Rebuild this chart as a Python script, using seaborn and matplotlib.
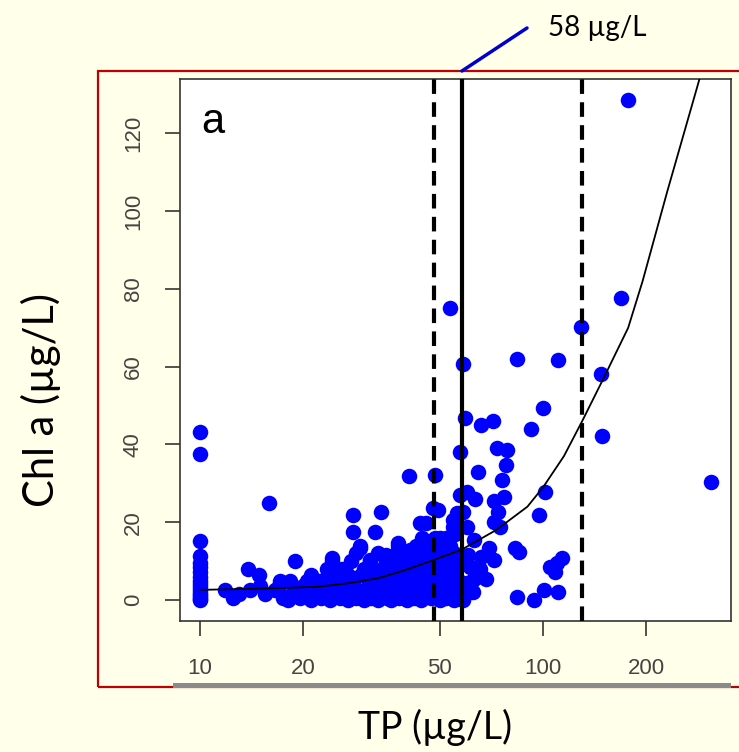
import matplotlib
matplotlib.use("Agg")
import matplotlib.pyplot as plt
from matplotlib.patches import Rectangle
from matplotlib.lines import Line2D
from matplotlib.ticker import NullLocator
import pandas as pd
import seaborn as sns

# lakes sitting at the TP detection limit (TP = 10)
limit_tp = 10
limit_chl = [43.2, 37.5, 15.2, 11.3, 9.5, 8.6, 7.2, 6.0, 5.0, 4.2, 3.4, 2.5, 1.8, 1.2, 0.8, 0.3, 0.0]

# dense low-chlorophyll cluster, TP values read row by row at each Chl level
cluster_rows = {
    0.0: [18, 21, 24, 27, 30, 33, 36, 40, 44, 50, 55],
    0.6: [12.5, 17.5, 19.5, 22.5, 25.5, 28.5, 31.5, 35, 38, 42, 47, 52, 57],
    1.6: [13, 15.5, 18.5, 20.5, 23, 26, 29, 32, 34, 37, 41, 45, 49, 53, 56],
    2.6: [11.8, 14, 16.5, 19, 21.5, 24, 27, 30, 33, 36, 39, 43, 46, 50, 54],
    3.6: [15, 17, 20, 22.5, 25, 28, 31, 34, 37, 40, 44, 48, 52, 56],
    5.0: [17.1, 18.3, 20.5, 22.4, 25.5, 28, 31, 33, 36, 38.5, 42, 45, 49, 53, 57],
    6.5: [14.9, 21, 24, 27, 29.5, 32, 35, 39, 41, 46, 51, 55],
    8.1: [13.8, 23.5, 26, 30, 34, 37, 40, 43, 47, 50, 54],
    10.0: [18.9, 24.2, 27.5, 31.3, 34.9, 38, 42, 45, 48.5, 52, 56],
    12.0: [28.5, 33, 37.5, 40.9, 44, 46.5, 51, 55],
    14.0: [29.3, 37.8, 42.5, 46, 49, 53.6],
    16.0: [44.5, 48.4, 50, 52],
}

# scattered lakes (TP, Chl a)
spread_pts = [
    (15.9, 25.0), (28.0, 21.8), (33.8, 22.7), (28.0, 17.6), (32.4, 17.6), (29.3, 13.3),
    (37.8, 14.6), (43.8, 19.7), (24.2, 10.7), (37.5, 11.1), (40.9, 12.9), (34.9, 11.6),
    (31.3, 10.3), (47.9, 23.6), (48.4, 15.0), (57.3, 27.0), (56.0, 22.3), (54.8, 18.8),
    (40.6, 32.0), (48.4, 32.1), (57.3, 38.1), (73.4, 39.0), (78.6, 38.7), (77.7, 34.7),
    (64.6, 33.0), (75.8, 30.8), (59.9, 27.8), (63.3, 25.9), (77.0, 26.4), (71.8, 25.5),
    (73.7, 22.7), (71.8, 20.1), (74.9, 18.8), (101.3, 27.7), (97.5, 21.8), (58.6, 22.7),
    (59.9, 18.8), (49.5, 23.1), (69.4, 13.5), (82.9, 13.3), (84.8, 12.4), (113.4, 10.7),
    (109.6, 9.4), (104.7, 8.6), (108.5, 7.3), (71.8, 10.3), (65.4, 8.1), (62.5, 5.1),
    (61.1, 2.1), (58.6, 0.0), (83.8, 0.8), (93.8, 0.0), (100.3, 2.6), (110.8, 2.1),
    (54.8, 20.6), (55.4, 17.1), (53.6, 12.9), (50.0, 15.4), (45.7, 19.7), (53.7, 75.2),
    (58.6, 60.7), (84.2, 62.1), (110.8, 61.7), (128.6, 70.3), (168.3, 77.8), (147.8, 58.0),
    (148.5, 42.2), (99.7, 49.3), (92.2, 43.9), (59.2, 46.9), (65.7, 45.0), (71.4, 46.0),
    (308.0, 30.4), (177.0, 128.5), (61.1, 8.6), (64.1, 6.0), (59.9, 4.3), (62.5, 2.0),
    (54.8, 7.7), (63.0, 15.5), (60.5, 11.5), (66.0, 11.0), (68.0, 5.5),
]

# fitted curve
curve_tp = [10, 16, 22, 27, 33, 39, 47, 58, 73, 90, 100, 115, 130, 150, 177, 195, 230, 290]
curve_chl = [2.6, 3.0, 3.4, 4.3, 5.6, 7.5, 10.0, 13.0, 18.0, 24.0, 29.0, 37.0, 46.0, 57.0, 70.0, 82.0, 105.0, 136.0]

# change point and its interval
change_tp = 58
ci_tp = [48, 130]

x_ticks = [10, 20, 50, 100, 200]
y_ticks = [0, 20, 40, 60, 80, 100, 120]

# build table
tp_all = [limit_tp] * len(limit_chl)
chl_all = list(limit_chl)
for lvl, tps in cluster_rows.items():
    tp_all += tps
    chl_all += [lvl] * len(tps)
tp_all += [p[0] for p in spread_pts]
chl_all += [p[1] for p in spread_pts]
df = pd.DataFrame({'tp': tp_all, 'chl': chl_all})
curve_df = pd.DataFrame({'tp': curve_tp, 'chl': curve_chl})

bg = '#FFFFEA'
sns.set_style('white')
W, H = 739, 752
fig = plt.figure(figsize=(W / 100, H / 100), dpi=100, facecolor=bg)

# axes box in pixel terms
left, right, top, bottom = 180, 731, 79, 621
ax = fig.add_axes([left / W, 1 - bottom / H, (right - left) / W, (bottom - top) / H])
ax.set_facecolor('white')
ax.set_xscale('log')

sns.scatterplot(data=df, x='tp', y='chl', color='#0000FF', s=125, linewidth=0, ax=ax, zorder=2)
sns.lineplot(data=curve_df, x='tp', y='chl', color='black', lw=1.3, sort=False, estimator=None, ax=ax, zorder=3)

ax.axvline(change_tp, color='black', lw=3, zorder=4)
for v in ci_tp:
    ax.axvline(v, color='black', lw=3, dashes=(3.5, 2), zorder=4)

ax.set_xlim(8.74, 353)
ax.set_ylim(-5.4, 134)
ax.xaxis.set_minor_locator(NullLocator())
ax.set_xticks(x_ticks, labels=[str(t) for t in x_ticks])
ax.set_yticks(y_ticks, labels=[str(t) for t in y_ticks])
for sp in ax.spines.values():
    sp.set_color('#333333')
    sp.set_linewidth(1.2)
ax.tick_params(axis='both', direction='out', length=11, width=1.2, color='#333333',
               bottom=True, left=True, labelsize=16, labelcolor='#444444')
ax.tick_params(axis='x', pad=16)
ax.tick_params(axis='y', pad=15)
for lab in ax.get_yticklabels():
    lab.set_rotation(90)
    lab.set_va('center')
    lab.set_family('Liberation Sans')
for lab in ax.get_xticklabels():
    lab.set_family('Liberation Sans')

ax.set_xlabel('TP (µg/L)', fontsize=27, family='Lato', color='black', va='center')
ax.xaxis.set_label_coords(0.463, -0.196)
ax.set_ylabel('Chl a (µg/L)', fontsize=30, family='Lato', color='black', va='center')
ax.yaxis.set_label_coords(-0.252, 0.408)

ax.text(0.06, 0.92, 'a', transform=ax.transAxes, fontsize=30, family='Liberation Sans',
        color='black', ha='center', va='center')

# slide frame and shadow bar
fig.add_artist(Rectangle((98 / W, 1 - 687 / H), (780 - 98) / W, (687 - 71) / H,
                         transform=fig.transFigure, fill=False, ec='#C00000', lw=1.6))
fig.add_artist(Rectangle((173 / W, 1 - 688 / H), (731 - 173) / W, 5 / H,
                         transform=fig.transFigure, fc='#8a8a8a', ec='none'))

# callout for change point
fig.canvas.draw()
x0 = fig.transFigure.inverted().transform(ax.transData.transform((change_tp, 0)))[0]
fig.add_artist(Line2D([x0, 527 / W], [1 - 71 / H, 1 - 28 / H], transform=fig.transFigure,
                      color='#0000CC', lw=2.5))
fig.text(548 / W, 1 - 28 / H, f'{change_tp} µg/L', fontsize=20, family='Lato',
         color='black', ha='left', va='center')

fig.savefig('out.png', dpi=100, facecolor=bg)
